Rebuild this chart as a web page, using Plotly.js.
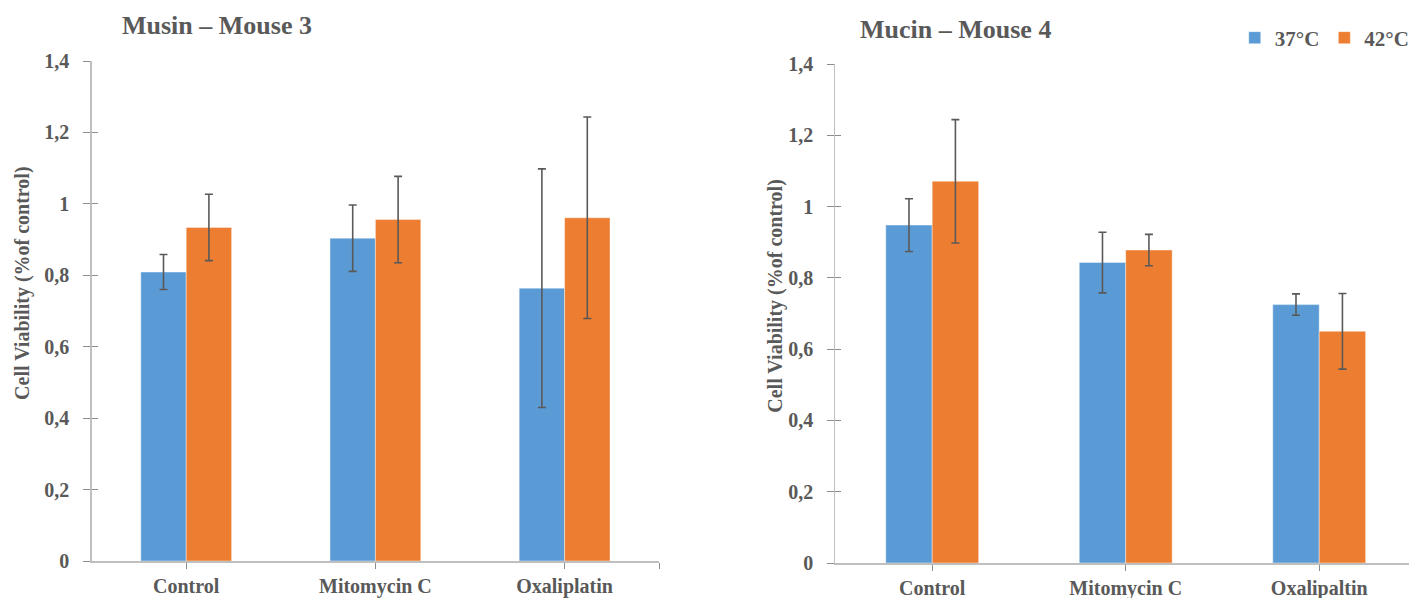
<!DOCTYPE html>
<html>
<head>
<meta charset="utf-8">
<script src="https://cdn.plot.ly/plotly-3.0.1.min.js"></script>
<style>
  html, body { margin: 0; padding: 0; background: #ffffff; }
  #chart { width: 1415px; height: 598px; }
</style>
</head>
<body>
<div id="chart"></div>
<script>
// Cell viability after treatment, two mice, two temperatures
const seriesNames = ['37°C', '42°C'];

const categoriesMouse3 = ['Control', 'Mitomycin C', 'Oxaliplatin'];
const mouse3_37 = [0.809, 0.904, 0.764];
const mouse3_37err = [0.049, 0.093, 0.334];
const mouse3_42 = [0.934, 0.956, 0.961];
const mouse3_42err = [0.093, 0.121, 0.282];

const categoriesMouse4 = ['Control', 'Mitomycin C', 'Oxalipaltin'];
const mouse4_37 = [0.948, 0.843, 0.725];
const mouse4_37err = [0.074, 0.085, 0.030];
const mouse4_42 = [1.071, 0.878, 0.650];
const mouse4_42err = [0.173, 0.044, 0.106];

const panelTitles = ['Musin – Mouse 3', 'Mucin – Mouse 4'];
const yTitle = 'Cell Viability (%of control)';

const W = 1415, H = 598;
const BLUE = '#5B9BD5', ORANGE = '#ED7D31';
const TEXT = '#595959', AXIS = '#BFBFBF', TICK = '#8C8C8C';
const FONT = 'Liberation Serif, Times New Roman, serif';

const idx = arr => arr.map((_, i) => i);
const px = v => v / W;
const py = v => (H - v) / H;

function barTrace(cats, vals, errs, name, color, xa, ya, showLegend) {
  return {
    type: 'bar',
    x: idx(cats), y: vals, name: name,
    xaxis: xa, yaxis: ya,
    marker: { color: color, line: { color: 'rgba(255,255,255,0.5)', width: 0.8 } },
    error_y: { type: 'data', array: errs, visible: true, color: '#595959', thickness: 1.6, width: 4 },
    showlegend: showLegend,
    hoverinfo: 'x+y'
  };
}

// empty traces that bring up the overlay axes carrying the inner half of each tick
const ghost = (xa, ya) => ({ type: 'scatter', x: [], y: [], xaxis: xa, yaxis: ya, showlegend: false, hoverinfo: 'skip' });

const data = [
  barTrace(categoriesMouse3, mouse3_37, mouse3_37err, seriesNames[0], BLUE, 'x', 'y', true),
  barTrace(categoriesMouse3, mouse3_42, mouse3_42err, seriesNames[1], ORANGE, 'x', 'y', true),
  barTrace(categoriesMouse4, mouse4_37, mouse4_37err, seriesNames[0], BLUE, 'x2', 'y2', false),
  barTrace(categoriesMouse4, mouse4_42, mouse4_42err, seriesNames[1], ORANGE, 'x2', 'y2', false),
  ghost('x', 'y3'),
  ghost('x2', 'y4')
];

const tickFont = { family: FONT, size: 20, color: TEXT, weight: 'bold' };

function yAxis(domain, anchor) {
  return {
    domain: domain, anchor: anchor,
    range: [0, 1.4], dtick: 0.2, tick0: 0,
    showgrid: false, zeroline: false,
    showline: true, linecolor: AXIS, linewidth: 1.3,
    ticks: 'outside', ticklen: 7, tickcolor: TICK, tickwidth: 1,
    ticklabelstandoff: 10,
    tickfont: tickFont, fixedrange: true
  };
}
function yInner(over, anchor, domain) {
  return {
    overlaying: over, anchor: anchor, domain: domain,
    range: [0, 1.4], dtick: 0.2, tick0: 0,
    showgrid: false, zeroline: false, showline: false,
    ticks: 'inside', ticklen: 6, tickcolor: TICK, tickwidth: 1,
    showticklabels: false, fixedrange: true
  };
}
function xAxis(domain, anchor, cats, range, withEnd) {
  const vals = idx(cats), text = cats.slice();
  if (withEnd) { vals.push(range[1]); text.push(''); }
  return {
    domain: domain, anchor: anchor, range: range,
    tickmode: 'array', tickvals: vals, ticktext: text,
    showgrid: false, zeroline: false,
    showline: true, linecolor: AXIS, linewidth: 1.6,
    ticks: 'outside', ticklen: 6, tickcolor: TICK, tickwidth: 1,
    ticklabelstandoff: 0,
    tickfont: tickFont, fixedrange: true
  };
}

const yDom1 = [py(561), py(61)];
const yDom2 = [py(563), py(64)];

const layout = {
  width: W, height: H,
  margin: { l: 0, r: 0, t: 0, b: 0 },
  paper_bgcolor: '#ffffff', plot_bgcolor: 'rgba(0,0,0,0)',
  separators: ', ',
  barmode: 'group', bargap: 0.52, bargroupgap: 0,
  font: { family: FONT, color: TEXT },
  xaxis: xAxis([px(92), px(662)], 'y', categoriesMouse3, [-0.5, 2.5], true),
  yaxis: yAxis(yDom1, 'x'),
  xaxis2: xAxis([px(839), 1], 'y2', categoriesMouse4, [-0.5, 2.5 - 7 / 194.5], false),
  yaxis2: yAxis(yDom2, 'x2'),
  yaxis3: yInner('y', 'x', yDom1),
  yaxis4: yInner('y2', 'x2', yDom2),
  legend: {
    orientation: 'h', x: px(1240), xanchor: 'left', y: py(38), yanchor: 'middle',
    font: { family: FONT, size: 21, color: TEXT, weight: 'bold' },
    itemwidth: 30, tracegroupgap: 0, bgcolor: 'rgba(0,0,0,0)'
  },
  annotations: [
    { text: panelTitles[0], xref: 'paper', yref: 'paper', x: px(218), y: py(26),
      xanchor: 'center', yanchor: 'middle', showarrow: false,
      font: { family: FONT, size: 26, color: TEXT, weight: 'bold' } },
    { text: panelTitles[1], xref: 'paper', yref: 'paper', x: px(960), y: py(30),
      xanchor: 'center', yanchor: 'middle', showarrow: false,
      font: { family: FONT, size: 26, color: TEXT, weight: 'bold' } },
    { text: yTitle, xref: 'paper', yref: 'paper', x: px(22), y: py(283),
      xanchor: 'center', yanchor: 'middle', textangle: -90, showarrow: false,
      font: { family: FONT, size: 20, color: TEXT, weight: 'bold' } },
    { text: yTitle, xref: 'paper', yref: 'paper', x: px(778), y: py(296),
      xanchor: 'center', yanchor: 'middle', textangle: -90, showarrow: false,
      font: { family: FONT, size: 20, color: TEXT, weight: 'bold' } }
  ]
};

Plotly.newPlot('chart', data, layout, { displayModeBar: false, staticPlot: true });
</script>
</body>
</html>
